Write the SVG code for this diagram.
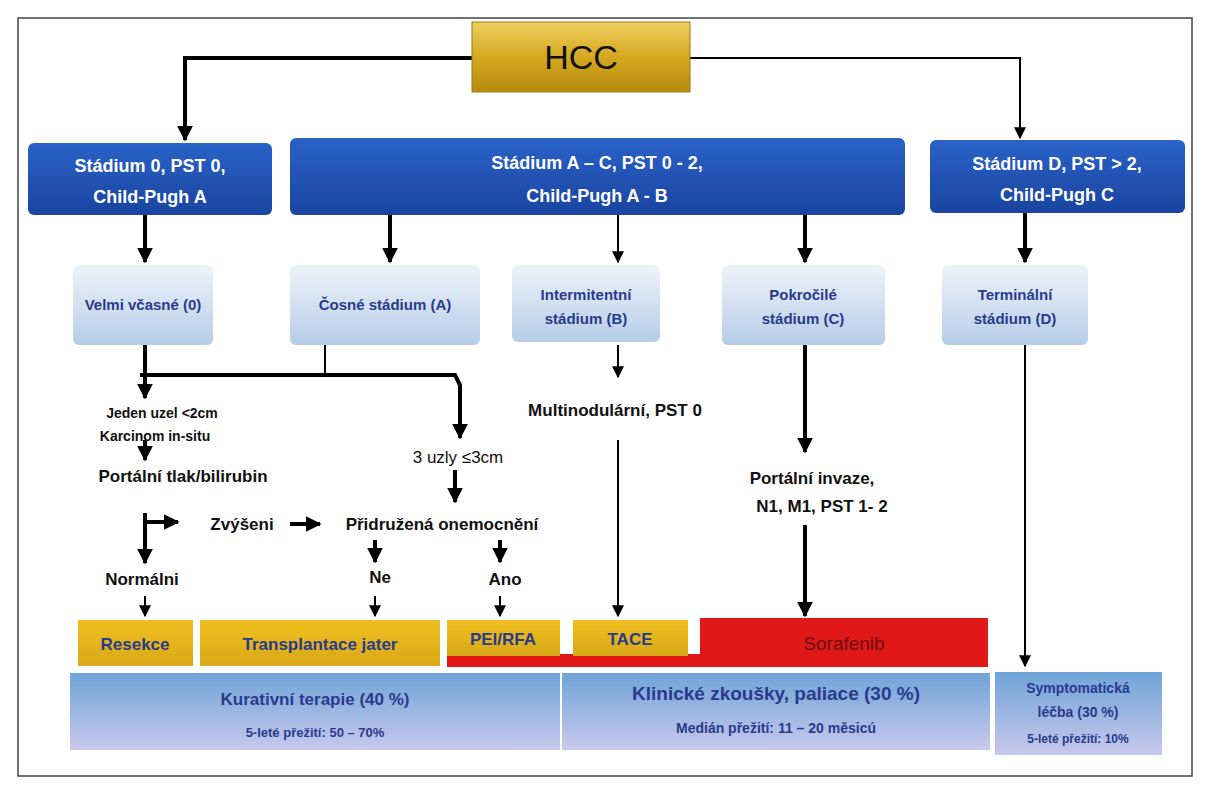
<svg xmlns="http://www.w3.org/2000/svg" width="1212" height="800" viewBox="0 0 1212 800">
<defs>
<linearGradient id="gold" x1="0" y1="0" x2="0" y2="1"><stop offset="0" stop-color="#f0d060"/><stop offset="0.5" stop-color="#d4a820"/><stop offset="1" stop-color="#b88a10"/></linearGradient>
<linearGradient id="dblue" x1="0" y1="0" x2="0" y2="1"><stop offset="0" stop-color="#2a62c8"/><stop offset="1" stop-color="#1a44a0"/></linearGradient>
<linearGradient id="lblue" x1="0" y1="0" x2="0" y2="1"><stop offset="0" stop-color="#eef3fa"/><stop offset="1" stop-color="#b6cde8"/></linearGradient>
<linearGradient id="band" x1="0" y1="0" x2="0" y2="1"><stop offset="0" stop-color="#6fa4d8"/><stop offset="1" stop-color="#c8c8ec"/></linearGradient>
<linearGradient id="yel" x1="0" y1="0" x2="0" y2="1"><stop offset="0" stop-color="#f0c020"/><stop offset="1" stop-color="#d8a818"/></linearGradient>
<marker id="ah" viewBox="0 0 10 10" refX="9" refY="5" markerWidth="4" markerHeight="4" orient="auto" markerUnits="strokeWidth"><path d="M0,0L10,5L0,10z" fill="#000"/></marker>
<marker id="ahs" viewBox="0 0 10 10" refX="9" refY="5" markerWidth="6" markerHeight="6" orient="auto" markerUnits="strokeWidth"><path d="M0,0L10,5L0,10z" fill="#000"/></marker>
</defs>
<style>
text{font-family:"Liberation Sans",Arial,sans-serif;font-weight:bold;text-anchor:middle}
.w{fill:#fff;font-size:18px}
.n{fill:#2a3a8c;font-size:15px}
.b{fill:#111;font-size:17px}
.s{fill:#111;font-size:14px}
.t{fill:#2a3a8c;font-size:18px}
.c{stroke:#000;fill:none;stroke-width:4}
.c2{stroke:#000;fill:none;stroke-width:2}
</style>
<rect x="0" y="0" width="1212" height="800" fill="#fff"/>
<rect x="18" y="18" width="1174" height="758" fill="none" stroke="#444" stroke-width="1.5"/>
<g id="connectors">
<path class="c" d="M472,58H185V140" marker-end="url(#ah)"/>
<path class="c2" d="M690,58H1020V138" marker-end="url(#ahs)"/>
<path class="c" d="M145,215V262" marker-end="url(#ah)"/>
<path class="c" d="M390,215V262" marker-end="url(#ah)"/>
<path class="c2" d="M618,215V262" marker-end="url(#ahs)"/>
<path class="c" d="M805,215V262" marker-end="url(#ah)"/>
<path class="c" d="M1025,213V262" marker-end="url(#ah)"/>
<path class="c" d="M145,345V398" marker-end="url(#ah)"/>
<path class="c2" d="M325,345V375"/>
<path class="c" d="M140,375H455L460,385V438" marker-end="url(#ah)"/>
<path class="c" d="M145,440V460" marker-end="url(#ah)"/>
<path class="c" d="M455,470V502" marker-end="url(#ah)"/>
<path class="c" d="M145,513V563" marker-end="url(#ah)"/>
<path class="c" d="M145,522H178" marker-end="url(#ah)"/>
<path class="c" d="M290,524H320" marker-end="url(#ah)"/>
<path class="c" d="M375,540V562" marker-end="url(#ah)"/>
<path class="c" d="M500,540V562" marker-end="url(#ah)"/>
<path class="c2" d="M145,596V616" marker-end="url(#ahs)"/>
<path class="c2" d="M375,596V616" marker-end="url(#ahs)"/>
<path class="c2" d="M500,596V616" marker-end="url(#ahs)"/>
<path class="c2" d="M618,345V377" marker-end="url(#ahs)"/>
<path class="c2" d="M618,440V616" marker-end="url(#ahs)"/>
<path class="c" d="M805,345V452" marker-end="url(#ah)"/>
<path class="c" d="M805,525V616" marker-end="url(#ah)"/>
<path class="c2" d="M1025,345V666" marker-end="url(#ahs)"/>
</g>
<g id="hcc"><rect x="472" y="22" width="218" height="70" fill="url(#gold)" stroke="#9a7a10"/><text x="581" y="69" style="font-size:34px;font-weight:normal" fill="#111">HCC</text></g>
<g id="st0"><rect x="28" y="143" width="244" height="72" rx="6" fill="url(#dblue)"/><text class="w" x="150" y="172">Stádium 0, PST 0,</text><text class="w" x="150" y="203">Child-Pugh A</text></g>
<g id="stAC"><rect x="290" y="138" width="615" height="77" rx="6" fill="url(#dblue)"/><text class="w" x="597" y="169">Stádium A – C, PST 0 - 2,</text><text class="w" x="597" y="202">Child-Pugh A - B</text></g>
<g id="stD"><rect x="930" y="140" width="255" height="73" rx="6" fill="url(#dblue)"/><text class="w" x="1057" y="170">Stádium D, PST &gt; 2,</text><text class="w" x="1057" y="201">Child-Pugh C</text></g>
<g id="velmi"><rect x="73" y="265" width="140" height="80" rx="6" fill="url(#lblue)"/><text class="n" x="143" y="310">Velmi včasné (0)</text></g>
<g id="casne"><rect x="290" y="265" width="190" height="80" rx="6" fill="url(#lblue)"/><text class="n" x="385" y="310">Čosné stádium (A)</text></g>
<g id="inter"><rect x="512" y="265" width="148" height="77" rx="6" fill="url(#lblue)"/><text class="n" x="586" y="300">Intermitentní</text><text class="n" x="586" y="324">stádium (B)</text></g>
<g id="pokr"><rect x="722" y="265" width="163" height="80" rx="6" fill="url(#lblue)"/><text class="n" x="803" y="300">Pokročilé</text><text class="n" x="803" y="324">stádium (C)</text></g>
<g id="term"><rect x="942" y="265" width="146" height="80" rx="6" fill="url(#lblue)"/><text class="n" x="1015" y="300">Terminální</text><text class="n" x="1015" y="324">stádium (D)</text></g>
<g id="labels">
<text class="s" x="162" y="418">Jeden uzel &lt;2cm</text>
<text class="s" x="155" y="441">Karcinom in-situ</text>
<text class="b" x="183" y="482">Portální tlak/bilirubin</text>
<text class="b" x="458" y="463" style="font-weight:normal">3 uzly ≤3cm</text>
<text class="b" x="242" y="530">Zvýšeni</text>
<text class="b" x="442" y="530">Přidružená onemocnění</text>
<text class="b" x="142" y="585">Normálni</text>
<text class="b" x="380" y="583">Ne</text>
<text class="b" x="505" y="585">Ano</text>
<text class="b" x="615" y="416">Multinodulární, PST 0</text>
<text class="b" x="812" y="484">Portální invaze,</text>
<text class="b" x="822" y="512">N1, M1, PST 1- 2</text>
</g>
<g id="treat">
<rect x="447" y="654" width="256" height="13" fill="#e01818"/>
<rect x="78" y="620" width="115" height="46" fill="url(#yel)"/><text class="n" x="135" y="650" style="font-size:17px">Resekce</text>
<rect x="200" y="620" width="240" height="46" fill="url(#yel)"/><text class="n" x="320" y="650" style="font-size:17px">Transplantace jater</text>
<rect x="447" y="620" width="113" height="36" fill="url(#yel)"/><text class="n" x="503" y="645" style="font-size:17px">PEI/RFA</text>
<rect x="573" y="620" width="115" height="36" fill="url(#yel)"/><text class="n" x="630" y="645" style="font-size:17px">TACE</text>
<rect x="700" y="618" width="288" height="49" fill="#e01818"/><text x="844" y="650" style="font-size:19px;font-weight:normal" fill="#6a1010">Sorafenib</text>
</g>
<g id="outcomes">
<rect x="70" y="673" width="490" height="77" fill="url(#band)"/><text class="t" x="315" y="705" style="font-size:17px">Kurativní terapie (40 %)</text><text class="n" x="315" y="737" style="font-size:13px">5-leté přežití: 50 – 70%</text>
<rect x="562" y="673" width="428" height="77" fill="url(#band)"/><text class="t" x="776" y="700" style="font-size:19px">Klinické zkoušky, paliace (30 %)</text><text class="n" x="776" y="733" style="font-size:14px">Medián přežití: 11 – 20 měsicú</text>
<rect x="995" y="672" width="167" height="83" fill="url(#band)"/><text class="n" x="1078" y="693" style="font-size:14px">Symptomatická</text><text class="n" x="1078" y="717" style="font-size:14px">léčba (30 %)</text><text class="n" x="1078" y="743" style="font-size:12px">5-leté přežití: 10%</text>
</g>
</svg>
